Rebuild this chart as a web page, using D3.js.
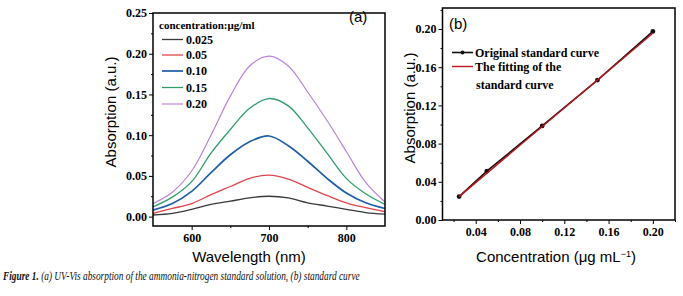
<!DOCTYPE html>
<html>
<head>
<meta charset="utf-8">
<script src="https://cdn.jsdelivr.net/npm/d3@7"></script>
<style>
  html, body { margin: 0; padding: 0; background: #fff; }
  svg { display: block; }
</style>
</head>
<body>
<div id="chart"></div>
<script>
// ---------- Data: panel (a) UV-Vis spectra ----------
const wavelengths = [550, 575, 600, 625, 650, 675, 700, 725, 750, 775, 800, 825, 850];
const seriesNames = ["0.025", "0.05", "0.10", "0.15", "0.20"];
const abs0025 = [0.002, 0.004, 0.009, 0.015, 0.019, 0.023, 0.025, 0.023, 0.017, 0.013, 0.009, 0.005, 0.003];
const abs005  = [0.004, 0.010, 0.016, 0.027, 0.037, 0.047, 0.051, 0.046, 0.036, 0.026, 0.017, 0.011, 0.006];
const abs010  = [0.008, 0.016, 0.031, 0.054, 0.076, 0.092, 0.099, 0.087, 0.068, 0.047, 0.029, 0.017, 0.010];
const abs015  = [0.012, 0.024, 0.043, 0.078, 0.107, 0.133, 0.145, 0.136, 0.109, 0.078, 0.047, 0.028, 0.015];
const abs020  = [0.016, 0.030, 0.056, 0.100, 0.148, 0.185, 0.197, 0.185, 0.153, 0.118, 0.080, 0.042, 0.018];
const seriesColors = ["#3a3a3a", "#e0454a", "#1f5ea8", "#2e9e6b", "#b983dc"];
const seriesWidths = [1.3, 1.3, 1.7, 1.3, 1.2];
const aYTicks = [0.00, 0.05, 0.10, 0.15, 0.20, 0.25];
const aXTicks = [600, 700, 800];

// ---------- Data: panel (b) standard curve ----------
const concentrations = [0.025, 0.05, 0.10, 0.15, 0.20];
const absorbances    = [0.0245, 0.0512, 0.0985, 0.1465, 0.1975];
const fitX = [0.025, 0.20];
const fitY = [0.0245, 0.1955];
const bYTicks = [0.00, 0.04, 0.08, 0.12, 0.16, 0.20];
const bXTicks = [0.04, 0.08, 0.12, 0.16, 0.20];

const W = 683, H = 296;
const svg = d3.select("#chart").append("svg").attr("width", W).attr("height", H)
  .style("background", "#fff");

const tickFont = "bold 12px 'Liberation Serif', 'Times New Roman', serif";
const titleFont = "15px 'Liberation Sans', Arial, sans-serif";

function styleAxis(g) {
  g.select(".domain").remove();
  g.selectAll(".tick line").attr("stroke", "#000").attr("stroke-width", 1);
  g.selectAll(".tick text").style("font", tickFont).attr("fill", "#000");
}

// ================= Panel (a) =================
const xA = d3.scaleLinear().domain([550, 850]).range([153, 385]);
const yA = d3.scaleLinear().domain([-0.0115, 0.25]).range([226, 13]);

const gA = svg.append("g");
const aSeries = [abs0025, abs005, abs010, abs015, abs020];
const lineA = d3.line().x((d, i) => xA(wavelengths[i])).y(d => yA(d)).curve(d3.curveCatmullRom.alpha(0.5));
gA.selectAll("path.spec").data(aSeries).join("path")
  .attr("class", "spec")
  .attr("d", d => lineA(d))
  .attr("fill", "none")
  .attr("stroke", (d, i) => seriesColors[i])
  .attr("stroke-width", (d, i) => seriesWidths[i]);

// axes
gA.append("g").attr("transform", `translate(${xA.range()[0]},0)`)
  .call(d3.axisLeft(yA).tickValues(aYTicks).tickFormat(d3.format(".2f")).tickSize(4).tickPadding(2))
  .call(styleAxis);
gA.append("g").attr("transform", `translate(${xA.range()[0]},0)`)
  .call(d3.axisLeft(yA).tickValues(d3.range(0.025, 0.25, 0.05)).tickFormat("").tickSize(2))
  .call(styleAxis);
gA.append("g").attr("transform", `translate(0,${yA.range()[0]})`)
  .call(d3.axisBottom(xA).tickValues(aXTicks).tickFormat(d3.format("d")).tickSize(4).tickPadding(3))
  .call(styleAxis);
gA.append("g").attr("transform", `translate(0,${yA.range()[0]})`)
  .call(d3.axisBottom(xA).tickValues([650, 750]).tickFormat("").tickSize(2))
  .call(styleAxis);

gA.append("rect")
  .attr("x", xA.range()[0]).attr("y", yA.range()[1])
  .attr("width", xA.range()[1] - xA.range()[0]).attr("height", yA.range()[0] - yA.range()[1])
  .attr("fill", "none").attr("stroke", "#000").attr("stroke-width", 1.5);

// legend (a)
gA.append("text").attr("x", 159).attr("y", 29)
  .style("font", "bold 11px 'Liberation Serif', 'Times New Roman', serif")
  .text("concentration:μg/ml");
const legY = [39.5, 55, 71, 87.5, 104];
seriesNames.forEach((name, i) => {
  gA.append("line").attr("x1", 162).attr("x2", 183).attr("y1", legY[i]).attr("y2", legY[i])
    .attr("stroke", seriesColors[i]).attr("stroke-width", seriesWidths[i]);
  gA.append("text").attr("x", 186).attr("y", legY[i] + 4)
    .style("font", tickFont).text(name);
});
gA.append("text").attr("x", 349).attr("y", 22)
  .style("font", titleFont).text("(a)");

// titles (a)
svg.append("text").attr("x", 249).attr("y", 262).attr("text-anchor", "middle")
  .style("font", titleFont).text("Wavelength (nm)");
svg.append("text").attr("transform", "translate(116,112) rotate(-90)").attr("text-anchor", "middle")
  .style("font", titleFont).text("Absorption (a.u.)");

// ================= Panel (b) =================
const xB = d3.scaleLinear().domain([0.01, 0.22]).range([442.5, 675]);
const yB = d3.scaleLinear().domain([0, 0.222]).range([220, 8]);
const gB = svg.append("g");

const lineB = d3.line().x(d => xB(d[0])).y(d => yB(d[1]));
gB.append("path")
  .attr("d", lineB(concentrations.map((c, i) => [c, absorbances[i]])))
  .attr("fill", "none").attr("stroke", "#111").attr("stroke-width", 1.6);
gB.selectAll("circle.pt").data(concentrations).join("circle")
  .attr("class", "pt")
  .attr("cx", d => xB(d)).attr("cy", (d, i) => yB(absorbances[i]))
  .attr("r", 2.4).attr("fill", "#111");
gB.append("path")
  .attr("d", lineB(fitX.map((c, i) => [c, fitY[i]])))
  .attr("fill", "none").attr("stroke", "#c0161b").attr("stroke-width", 1.4);

gB.append("g").attr("transform", `translate(${xB.range()[0]},0)`)
  .call(d3.axisLeft(yB).tickValues(bYTicks).tickFormat(d3.format(".2f")).tickSize(4).tickPadding(2))
  .call(styleAxis);
gB.append("g").attr("transform", `translate(${xB.range()[0]},0)`)
  .call(d3.axisLeft(yB).tickValues([0.02, 0.06, 0.10, 0.14, 0.18, 0.22]).tickFormat("").tickSize(2))
  .call(styleAxis);
gB.append("g").attr("transform", `translate(0,${yB.range()[0]})`)
  .call(d3.axisBottom(xB).tickValues(bXTicks).tickFormat(d3.format(".2f")).tickSize(4).tickPadding(3))
  .call(styleAxis);
gB.append("g").attr("transform", `translate(0,${yB.range()[0]})`)
  .call(d3.axisBottom(xB).tickValues([0.02, 0.06, 0.10, 0.14, 0.18, 0.22]).tickFormat("").tickSize(2))
  .call(styleAxis);

gB.append("rect")
  .attr("x", xB.range()[0]).attr("y", yB.range()[1])
  .attr("width", xB.range()[1] - xB.range()[0]).attr("height", yB.range()[0] - yB.range()[1])
  .attr("fill", "none").attr("stroke", "#000").attr("stroke-width", 1.5);

// legend (b)
gB.append("line").attr("x1", 452).attr("x2", 473).attr("y1", 52.5).attr("y2", 52.5)
  .attr("stroke", "#111").attr("stroke-width", 1.6);
gB.append("circle").attr("cx", 462.5).attr("cy", 52.5).attr("r", 2).attr("fill", "#111");
gB.append("text").attr("x", 475).attr("y", 56.5).style("font", tickFont).text("Original standard curve");
gB.append("line").attr("x1", 452).attr("x2", 473).attr("y1", 66.5).attr("y2", 66.5)
  .attr("stroke", "#c0161b").attr("stroke-width", 1.4);
gB.append("text").attr("x", 475).attr("y", 70.5).style("font", tickFont).text("The fitting of the");
gB.append("text").attr("x", 476).attr("y", 88.5).style("font", tickFont).text("standard curve");
gB.append("text").attr("x", 449).attr("y", 29)
  .style("font", titleFont).text("(b)");

// titles (b)
const cTitle = svg.append("text").attr("x", 556).attr("y", 262).attr("text-anchor", "middle")
  .style("font", titleFont);
cTitle.append("tspan").text("Concentration (μg mL");
cTitle.append("tspan").attr("dy", -5).style("font-size", "9px").text("−1");
cTitle.append("tspan").attr("dy", 5).text(")");
svg.append("text").attr("transform", "translate(415,108) rotate(-90)").attr("text-anchor", "middle")
  .style("font", titleFont).text("Absorption (a.u.)");

// caption (scaled horizontally to fit the reference width)
const capG = svg.append("g");
const cap = capG.append("text").attr("x", 0).attr("y", 0)
  .style("font", "italic 11.5px 'Liberation Serif', 'Times New Roman', serif").attr("fill", "#111");
cap.append("tspan").style("font-weight", "bold").text("Figure 1.");
cap.append("tspan").text(" (a) UV-Vis absorption of the ammonia-nitrogen standard solution, (b) standard curve");
const capLen = cap.node().getComputedTextLength();
const sx = capLen > 0 ? 357 / capLen : 1;
capG.attr("transform", `translate(3,280) scale(${sx},1)`);
</script>
</body>
</html>
